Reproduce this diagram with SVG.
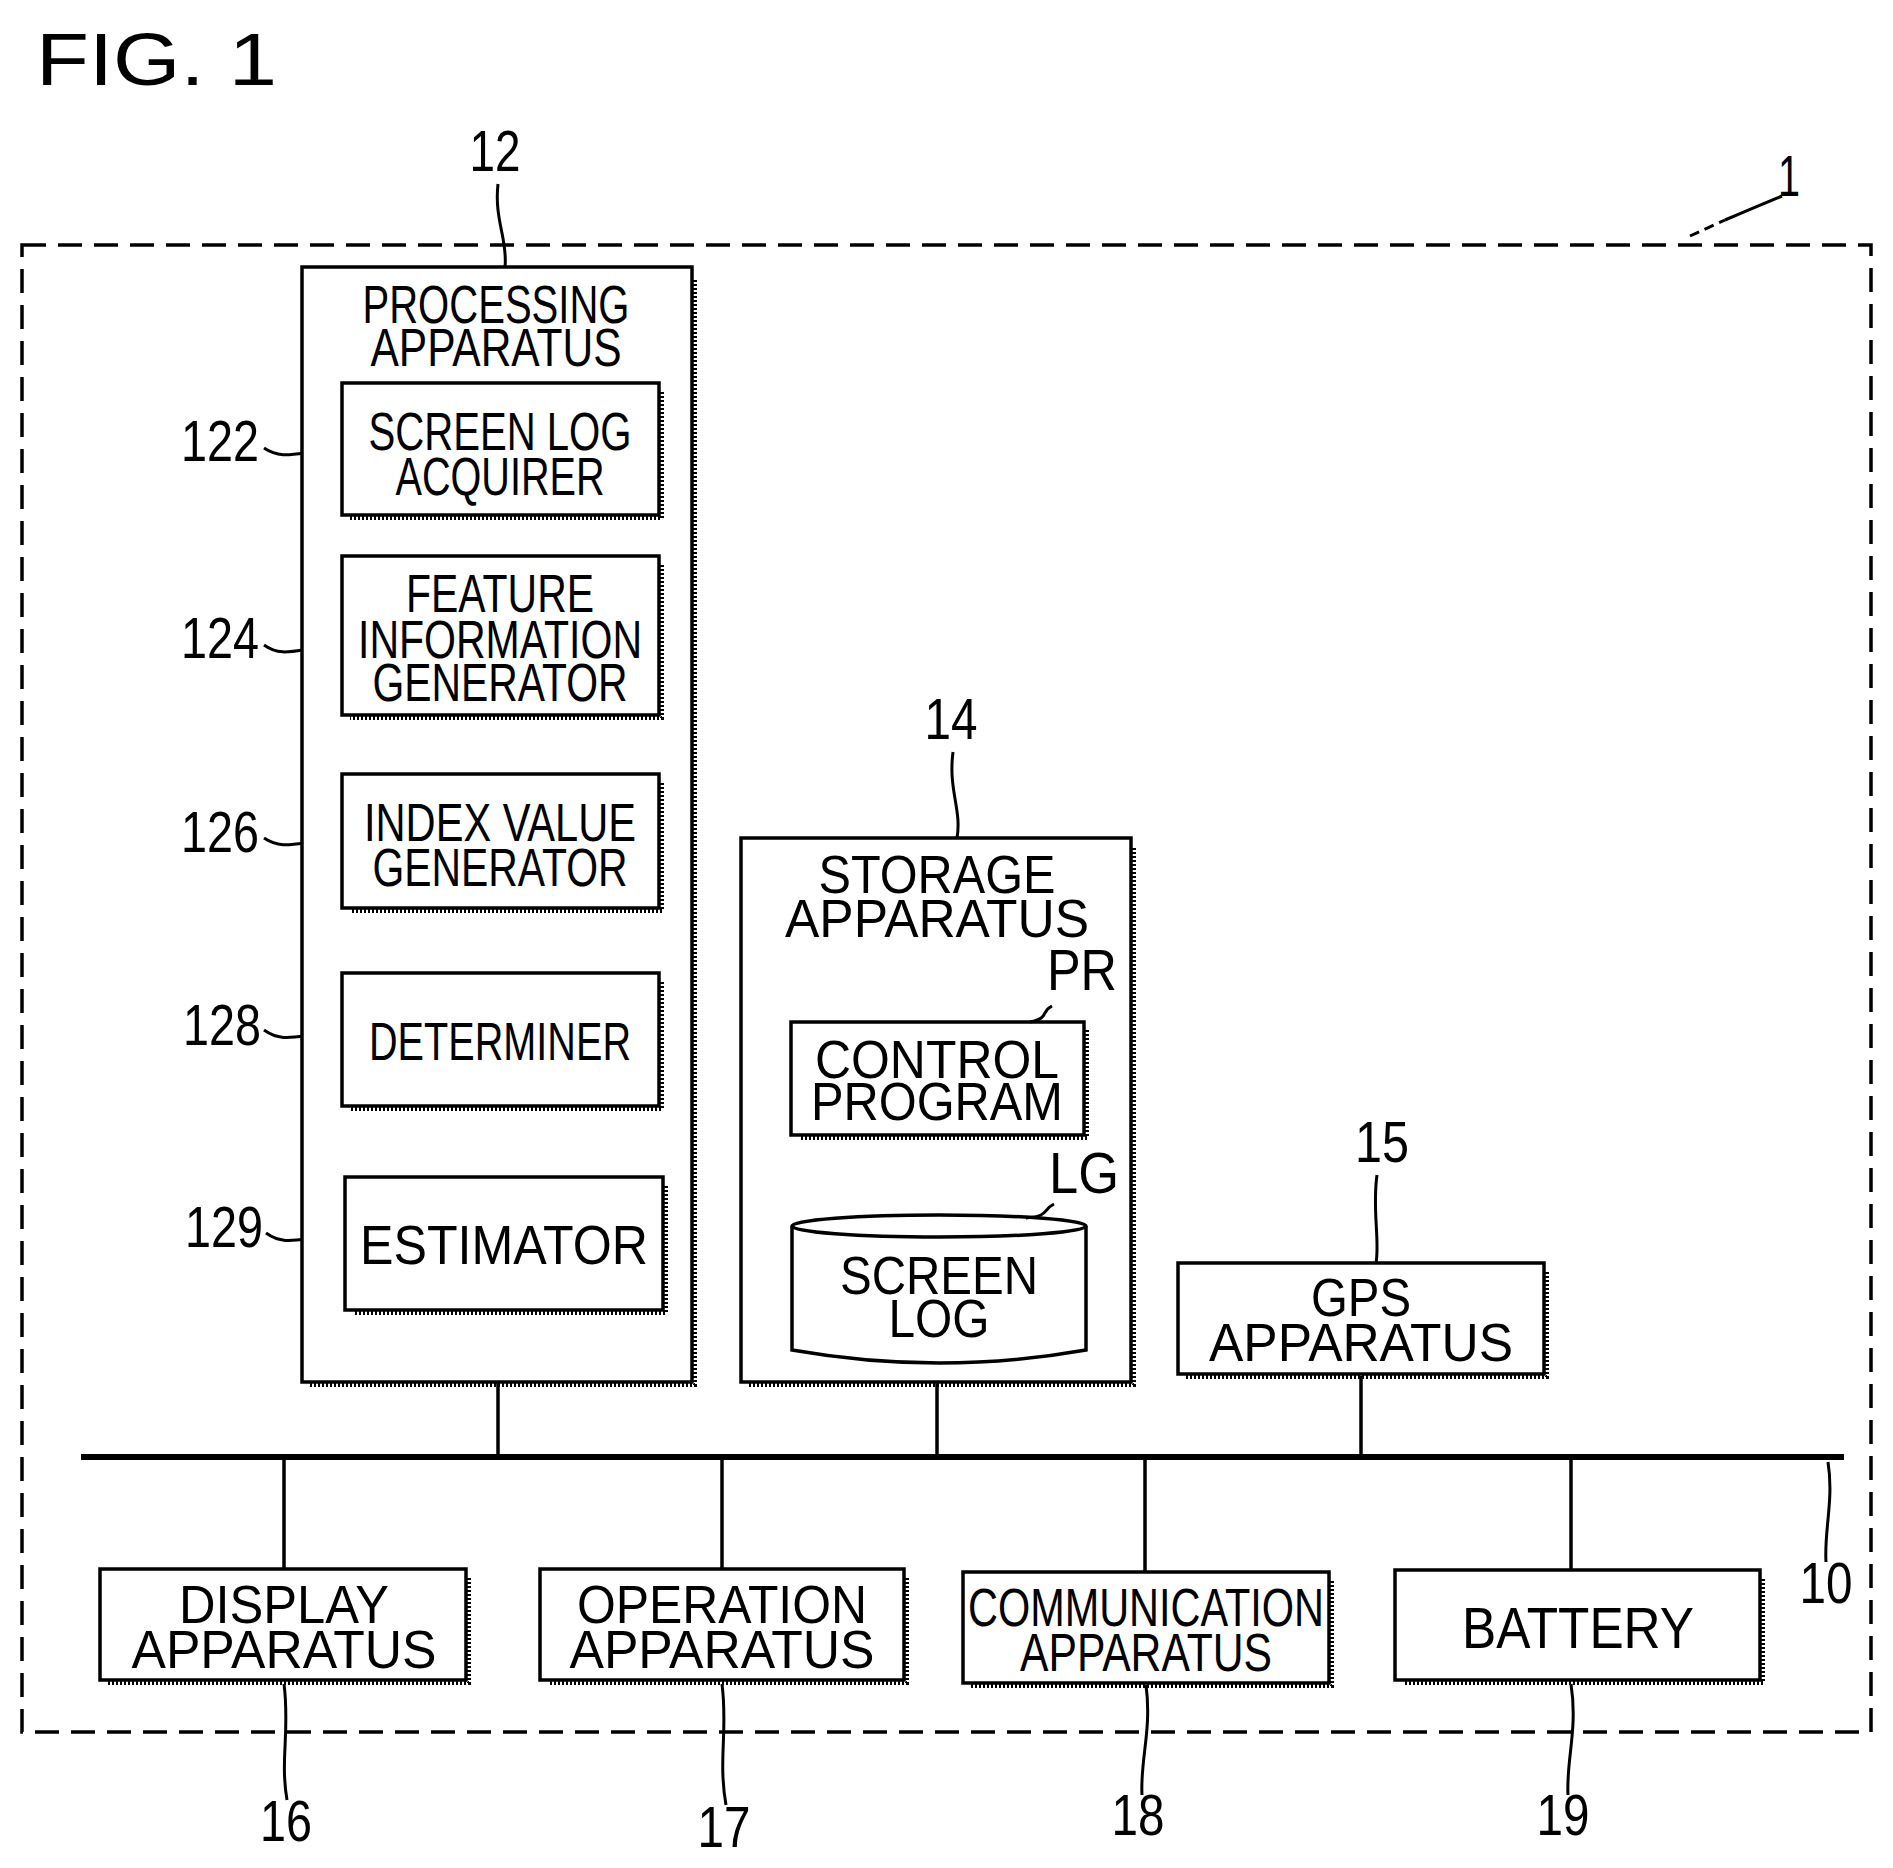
<svg xmlns="http://www.w3.org/2000/svg" width="1893" height="1868" viewBox="0 0 1893 1868">
<style>
text{font-family:"Liberation Sans",Arial,sans-serif;fill:#000;text-anchor:middle}
.t{font-size:54px}
.n{font-size:58px}
.box{fill:#fff;stroke:#000;stroke-width:3.5}
.sh{fill:none;stroke:#000;stroke-width:4;stroke-dasharray:2 2}
.ln{fill:none;stroke:#000;stroke-width:3.5}
.ld{fill:none;stroke:#000;stroke-width:3}
</style>
<rect width="1893" height="1868" fill="#fff"/>
<text x="36" y="85" style="font-size:75px;text-anchor:start" textLength="241" lengthAdjust="spacingAndGlyphs">FIG. 1</text>
<rect x="22" y="245" width="1849" height="1487" fill="none" stroke="#000" stroke-width="3.5" stroke-dasharray="24 12"/>
<g id="leaders">
<path class="ld" d="M1690,236 L1725,220" stroke-dasharray="10 6"/>
<path class="ld" d="M1725,220 Q1760,205 1782,196"/>
<path class="ld" d="M498,184 C494,220 508,240 505,267"/>
<path class="ld" d="M264,448 C285,462 300,450 342,450"/>
<path class="ld" d="M264,645 C285,660 300,646 342,646"/>
<path class="ld" d="M264,838 C285,852 300,840 342,840"/>
<path class="ld" d="M264,1030 C285,1045 300,1033 342,1033"/>
<path class="ld" d="M266,1233 C287,1248 302,1236 345,1236"/>
<path class="ld" d="M953,752 C948,790 962,810 957,838"/>
<path class="ld" d="M1377,1175 C1372,1210 1380,1240 1376,1263"/>
<path class="ld" d="M1828,1462 C1834,1500 1824,1530 1826,1562"/>
<path class="ld" d="M284,1684 C290,1730 280,1760 287,1800"/>
<path class="ld" d="M722,1684 C728,1730 718,1760 726,1805"/>
<path class="ld" d="M1146,1685 C1152,1730 1140,1760 1142,1795"/>
<path class="ld" d="M1571,1684 C1578,1730 1566,1760 1568,1795"/>
</g>
<g id="connectors">
<line x1="81" y1="1457" x2="1844" y2="1457" stroke="#000" stroke-width="6"/>
<line class="ln" x1="498" y1="1382" x2="498" y2="1457"/>
<line class="ln" x1="937" y1="1382" x2="937" y2="1457"/>
<line class="ln" x1="1361" y1="1376" x2="1361" y2="1457"/>
<line class="ln" x1="284" y1="1457" x2="284" y2="1569"/>
<line class="ln" x1="722" y1="1457" x2="722" y2="1569"/>
<line class="ln" x1="1145" y1="1457" x2="1145" y2="1572"/>
<line class="ln" x1="1571" y1="1457" x2="1571" y2="1570"/>
</g>
<g id="n12">
<path class="sh" d="M695,280 V1385 H310"/>
<rect class="box" x="302" y="267" width="390" height="1115"/>
<text class="t" x="496" y="323" textLength="267" lengthAdjust="spacingAndGlyphs">PROCESSING</text>
<text class="t" x="496" y="366" textLength="251" lengthAdjust="spacingAndGlyphs">APPARATUS</text>
</g>
<g id="n122">
<path class="sh" d="M662,392 V518 H350"/>
<rect class="box" x="342" y="383" width="317" height="132"/>
<text class="t" x="500" y="450" textLength="263" lengthAdjust="spacingAndGlyphs">SCREEN LOG</text>
<text class="t" x="500" y="495" textLength="209" lengthAdjust="spacingAndGlyphs">ACQUIRER</text>
</g>
<g id="n124">
<path class="sh" d="M662,565 V718 H350"/>
<rect class="box" x="342" y="556" width="317" height="159"/>
<text class="t" x="500" y="612" textLength="188" lengthAdjust="spacingAndGlyphs">FEATURE</text>
<text class="t" x="500" y="658" textLength="284" lengthAdjust="spacingAndGlyphs">INFORMATION</text>
<text class="t" x="500" y="701" textLength="255" lengthAdjust="spacingAndGlyphs">GENERATOR</text>
</g>
<g id="n126">
<path class="sh" d="M662,783 V911 H350"/>
<rect class="box" x="342" y="774" width="317" height="134"/>
<text class="t" x="500" y="841" textLength="272" lengthAdjust="spacingAndGlyphs">INDEX VALUE</text>
<text class="t" x="500" y="886" textLength="255" lengthAdjust="spacingAndGlyphs">GENERATOR</text>
</g>
<g id="n128">
<path class="sh" d="M662,982 V1109 H350"/>
<rect class="box" x="342" y="973" width="317" height="133"/>
<text class="t" x="500" y="1060" textLength="262" lengthAdjust="spacingAndGlyphs">DETERMINER</text>
</g>
<g id="n129">
<path class="sh" d="M666,1186 V1313 H353"/>
<rect class="box" x="345" y="1177" width="318" height="133"/>
<text x="504" y="1264" style="font-size:56px" textLength="288" lengthAdjust="spacingAndGlyphs">ESTIMATOR</text>
</g>
<g id="n14">
<path class="sh" d="M1134,848 V1385 H749"/>
<rect class="box" x="741" y="838" width="390" height="544"/>
<text class="t" x="937" y="893" textLength="237" lengthAdjust="spacingAndGlyphs">STORAGE</text>
<text class="t" x="937" y="937" textLength="304" lengthAdjust="spacingAndGlyphs">APPARATUS</text>
</g>
<g id="nPR">
<path class="sh" d="M1087,1030 V1138 H799"/>
<rect class="box" x="791" y="1022" width="293" height="113"/>
<text class="t" x="937" y="1078" textLength="244" lengthAdjust="spacingAndGlyphs">CONTROL</text>
<text class="t" x="937" y="1120" textLength="252" lengthAdjust="spacingAndGlyphs">PROGRAM</text>
</g>
<g id="nLG">
<path class="box" d="M792,1226 V1350 Q939,1376 1086,1350 V1226"/>
<ellipse class="box" cx="939" cy="1226" rx="147" ry="11"/>
<text class="t" x="939" y="1294" textLength="198" lengthAdjust="spacingAndGlyphs">SCREEN</text>
<text class="t" x="939" y="1337" textLength="101" lengthAdjust="spacingAndGlyphs">LOG</text>
</g>
<g id="n15">
<path class="sh" d="M1547,1272 V1377 H1186"/>
<rect class="box" x="1178" y="1263" width="366" height="111"/>
<text class="t" x="1361" y="1316" textLength="100" lengthAdjust="spacingAndGlyphs">GPS</text>
<text class="t" x="1361" y="1361" textLength="304" lengthAdjust="spacingAndGlyphs">APPARATUS</text>
</g>
<g id="n16">
<path class="sh" d="M469,1578 V1683 H108"/>
<rect class="box" x="100" y="1569" width="366" height="111"/>
<text class="t" x="284" y="1623" textLength="210" lengthAdjust="spacingAndGlyphs">DISPLAY</text>
<text class="t" x="284" y="1668" textLength="305" lengthAdjust="spacingAndGlyphs">APPARATUS</text>
</g>
<g id="n17">
<path class="sh" d="M907,1578 V1683 H548"/>
<rect class="box" x="540" y="1569" width="364" height="111"/>
<text class="t" x="722" y="1623" textLength="290" lengthAdjust="spacingAndGlyphs">OPERATION</text>
<text class="t" x="722" y="1668" textLength="305" lengthAdjust="spacingAndGlyphs">APPARATUS</text>
</g>
<g id="n18">
<path class="sh" d="M1332,1581 V1686 H971"/>
<rect class="box" x="963" y="1572" width="366" height="111"/>
<text class="t" x="1146" y="1626" textLength="356" lengthAdjust="spacingAndGlyphs">COMMUNICATION</text>
<text class="t" x="1146" y="1671" textLength="252" lengthAdjust="spacingAndGlyphs">APPARATUS</text>
</g>
<g id="n19">
<path class="sh" d="M1763,1579 V1683 H1403"/>
<rect class="box" x="1395" y="1570" width="365" height="110"/>
<text x="1578" y="1648" style="font-size:58px" textLength="232" lengthAdjust="spacingAndGlyphs">BATTERY</text>
</g>
<g id="labels">
<path class="ld" d="M1052,1006 C1040,1012 1050,1018 1030,1022"/>
<path class="ld" d="M1054,1204 C1042,1210 1050,1216 1026,1218"/>
<text class="n" x="1789" y="196" textLength="22" lengthAdjust="spacingAndGlyphs">1</text>
<text class="n" x="495" y="171" textLength="51" lengthAdjust="spacingAndGlyphs">12</text>
<text class="n" x="220" y="461" textLength="78" lengthAdjust="spacingAndGlyphs">122</text>
<text class="n" x="220" y="658" textLength="78" lengthAdjust="spacingAndGlyphs">124</text>
<text class="n" x="220" y="852" textLength="78" lengthAdjust="spacingAndGlyphs">126</text>
<text class="n" x="222" y="1045" textLength="78" lengthAdjust="spacingAndGlyphs">128</text>
<text class="n" x="224" y="1247" textLength="78" lengthAdjust="spacingAndGlyphs">129</text>
<text class="n" x="951" y="739" textLength="53" lengthAdjust="spacingAndGlyphs">14</text>
<text class="n" x="1082" y="990" textLength="70" lengthAdjust="spacingAndGlyphs">PR</text>
<text class="n" x="1084" y="1193" textLength="70" lengthAdjust="spacingAndGlyphs">LG</text>
<text class="n" x="1382" y="1162" textLength="54" lengthAdjust="spacingAndGlyphs">15</text>
<text class="n" x="1826" y="1603" textLength="53" lengthAdjust="spacingAndGlyphs">10</text>
<text class="n" x="286" y="1841" textLength="52" lengthAdjust="spacingAndGlyphs">16</text>
<text class="n" x="724" y="1847" textLength="53" lengthAdjust="spacingAndGlyphs">17</text>
<text class="n" x="1138" y="1835" textLength="53" lengthAdjust="spacingAndGlyphs">18</text>
<text class="n" x="1563" y="1835" textLength="53" lengthAdjust="spacingAndGlyphs">19</text>
</g>
</svg>
